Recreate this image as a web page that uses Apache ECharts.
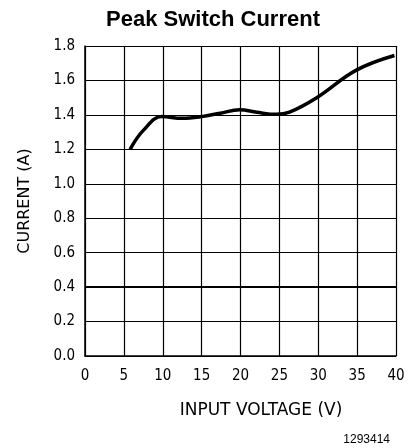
<!DOCTYPE html>
<html><head><meta charset="utf-8">
<script src="https://cdn.jsdelivr.net/npm/echarts@6/dist/echarts.min.js"></script>
<style>html,body{margin:0;padding:0;background:#fff}#c{width:408px;height:448px}</style>
</head><body><div id="c"></div>
<script>
const voltage = [5.8, 7.5, 9.9, 12.5, 15, 17.4, 19.9, 22.1, 24.6, 26.3, 29.8, 34.9, 39.8];
const current = [1.20, 1.31, 1.39, 1.38, 1.39, 1.41, 1.43, 1.415, 1.403, 1.416, 1.50, 1.66, 1.745];
const xTicks = [0, 5, 10, 15, 20, 25, 30, 35, 40];
const yTicks = [0, 0.2, 0.4, 0.6, 0.8, 1.0, 1.2, 1.4, 1.6, 1.8];
const titleText = 'Peak Switch Current';
const xName = 'INPUT VOLTAGE (V)';
const yName = 'CURRENT (A)';
const figId = '1293414';

const chart = echarts.init(document.getElementById('c'), null, {renderer: 'canvas'});
const labelFont = 'DejaVu Sans Condensed';
chart.setOption({
  animation: false,
  backgroundColor: '#fff',
  title: [
    {text: titleText, left: 208, top: 4, textAlign: 'center',
     textStyle: {fontFamily: 'Liberation Sans', fontWeight: 'bold', fontSize: 22, color: '#000'}},
    {text: figId, right: 13, top: 429,
     textStyle: {fontFamily: 'Liberation Sans', fontWeight: 'normal', fontSize: 12, color: '#000'}}
  ],
  graphic: [
    {type: 'text', x: 261, y: 411, style: {text: xName, align: 'center', verticalAlign: 'middle',
      font: '17px "DejaVu Sans"', fill: '#000'}}
  ],
  grid: {left: 85, right: 12, top: 46, bottom: 92, containLabel: false},
  xAxis: {
    type: 'value', min: xTicks[0], max: xTicks[xTicks.length - 1], interval: 5,
    axisLine: {show: true, lineStyle: {color: '#000', width: 1.5}},
    axisTick: {show: false},
    axisLabel: {fontFamily: labelFont, fontSize: 15, color: '#000', margin: 13},
    splitLine: {show: true, lineStyle: {color: '#000', width: 1.2}}
  },
  yAxis: {
    type: 'value', min: yTicks[0], max: yTicks[yTicks.length - 1], interval: 0.2,
    name: yName, nameLocation: 'middle', nameGap: 52, nameRotate: 90,
    nameTextStyle: {fontFamily: 'DejaVu Sans', fontSize: 16, color: '#000'},
    axisLine: {show: true, lineStyle: {color: '#000', width: 1.5}},
    axisTick: {show: false},
    axisLabel: {fontFamily: labelFont, fontSize: 15, color: '#000', margin: 10,
      formatter: v => v.toFixed(1)},
    splitLine: {show: true, lineStyle: {color: '#000', width: 1.2}}
  },
  series: [{
    type: 'line', smooth: 0.4, symbol: 'none',
    data: voltage.map((v, i) => [v, current[i]]),
    lineStyle: {color: '#000', width: 3.5},
    markLine: {silent: true, symbol: 'none', label: {show: false},
      lineStyle: {color: '#000', width: 2, type: 'solid'},
      data: [{yAxis: 0.4}]}
  }]
});
</script></body></html>
